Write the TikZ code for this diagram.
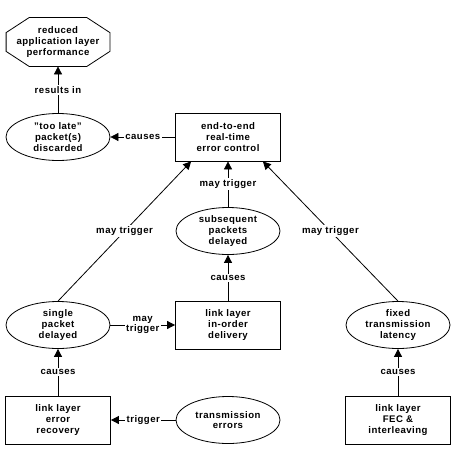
\documentclass[tikz,border=0pt]{standalone}
\usepackage{fontspec}
\setmainfont{Liberation Sans}[LetterSpace=5]
\usetikzlibrary{arrows.meta,shapes.geometric}

\begin{document}
\begin{tikzpicture}[x=1pt,y=-1pt,
    line width=0.8pt,
    every node/.style={font=\bfseries\fontsize{9.6}{10.6}\selectfont,align=center},
    box/.style={draw,rectangle,minimum width=105pt,minimum height=48pt,inner sep=0pt},
    blob/.style={draw,ellipse,minimum width=104pt,minimum height=47pt,inner sep=0pt},
    lbl/.style={fill=white,inner sep=1.5pt},
    >={Triangle[length=8pt,width=8pt]}]
    \useasboundingbox (0,0) rectangle (454,452);
    % nodes
    \node[minimum width=103pt,minimum height=48pt,inner sep=0pt] (perf) at (58,42) {reduced\\application layer\\performance};
    \draw ([xshift=23pt]perf.north west) -- ([xshift=-23pt]perf.north east)
        -- ([yshift=-15pt]perf.north east) -- ([yshift=15pt]perf.south east)
        -- ([xshift=-23pt]perf.south east) -- ([xshift=23pt]perf.south west)
        -- ([yshift=15pt]perf.south west) -- ([yshift=-15pt]perf.north west) -- cycle;
    \node[blob] (late) at (58,137) {\char"22 too late\char"22\\packet(s)\\discarded};
    \node[box] (ctrl) at (228,137) {end-to-end\\real-time\\error control};
    \node[blob] (subseq) at (228,231) {subsequent\\packets\\delayed};
    \node[blob] (single) at (58,325) {single\\packet\\delayed};
    \node[box] (inorder) at (228,325) {link layer\\in-order\\delivery};
    \node[blob] (fixed) at (398,325) {fixed\\transmission\\latency};
    \node[box] (recovery) at (58,420) {link layer\\error\\recovery};
    \node[blob] (errors) at (228,420) {transmission\\errors};
    \node[box] (fec) at (398,420) {link layer\\FEC \&\\interleaving};
    % connectors
    \draw[->] (late) -- (perf) node[midway,lbl] {results in};
    \draw[->] (ctrl) -- (late) node[midway,lbl] {causes};
    \draw[->] (subseq) -- (ctrl) node[midway,lbl] {may trigger};
    \draw[->] (inorder) -- (subseq) node[midway,lbl] {causes};
    \draw[->] (single.north) -- ([xshift=16pt]ctrl.south west) node[midway,lbl] {may trigger};
    \draw[->] (fixed.north) -- ([xshift=-18pt]ctrl.south east) node[midway,lbl] {may trigger};
    \draw[->] (single) -- (inorder) node[midway,lbl] {may\\trigger};
    \draw[->] (recovery) -- (single) node[midway,lbl] {causes};
    \draw[->] (errors) -- (recovery) node[midway,lbl] {trigger};
    \draw[->] (fec) -- (fixed) node[midway,lbl] {causes};
\end{tikzpicture}
\end{document}
